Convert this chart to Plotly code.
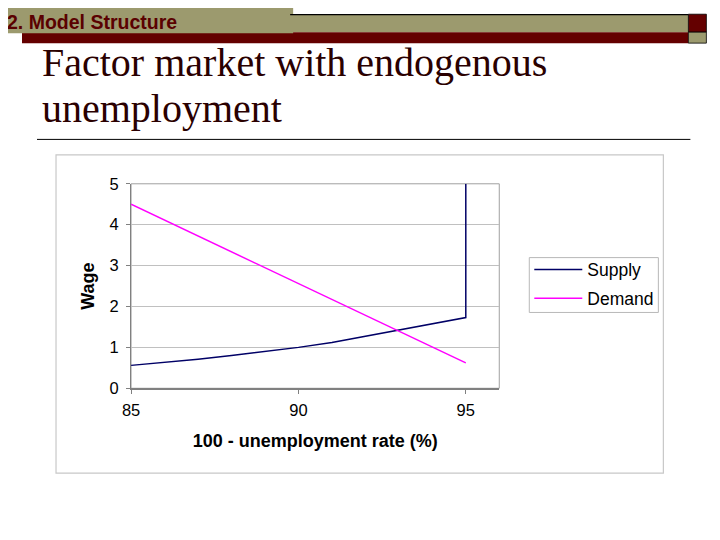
import plotly.graph_objects as go

# Data
supply_x = [85, 86, 87, 88, 89, 90, 91, 92, 93, 94, 95, 95]
supply_y = [0.56, 0.63, 0.71, 0.8, 0.9, 1.0, 1.12, 1.27, 1.42, 1.57, 1.73, 5.0]
demand_x = [85, 95]
demand_y = [4.5, 0.62]
x_ticks = [85, 90, 95]
y_ticks = [0, 1, 2, 3, 4, 5]
series_names = ["Supply", "Demand"]
header_text = "2. Model Structure"
title_lines = ["Factor market with endogenous", "unemployment"]
x_title = "100 - unemployment rate (%)"
y_title = "Wage"

W, H = 720, 540
# screen-pixel -> paper fraction (calibrated against rendered output)
OX, SX = 17.0, 710.6
OY, SY = 14.8, 523.3
def px(x): return (x - OX) / SX
def py(y): return 1 - (y - OY) / SY

fig = go.Figure()
fig.add_trace(go.Scatter(x=supply_x, y=supply_y, mode="lines", name=series_names[0],
                         legendgroup="a", line=dict(color="#000066", width=1.5)))
fig.add_trace(go.Scatter(x=demand_x, y=demand_y, mode="lines", name=series_names[1],
                         legendgroup="b", line=dict(color="#FF00FF", width=1.5)))

olive = "#9C9A6E"
darkred = "#640000"
shapes = [
    dict(type="rect", xref="paper", yref="paper", x0=px(290), x1=px(688), y0=py(30), y1=py(12),
         fillcolor=olive, line=dict(width=0), layer="below"),
    dict(type="line", xref="paper", yref="paper", x0=px(290), x1=px(688), y0=py(12.5), y1=py(12.5),
         line=dict(color="#000000", width=1.2)),
    dict(type="rect", xref="paper", yref="paper", x0=px(22), x1=px(688), y0=py(41), y1=py(30),
         fillcolor=darkred, line=dict(width=0), layer="below"),
    dict(type="rect", xref="paper", yref="paper", x0=px(688), x1=px(706), y0=py(30), y1=py(12),
         fillcolor=darkred, line=dict(color="#000000", width=0.8), layer="below"),
    dict(type="rect", xref="paper", yref="paper", x0=px(688), x1=px(706), y0=py(41), y1=py(30),
         fillcolor=olive, line=dict(color="#000000", width=0.8), layer="below"),
    dict(type="rect", xref="paper", yref="paper", x0=px(-10), x1=px(293), y0=py(31), y1=py(-10),
         fillcolor=olive, line=dict(width=0), layer="below"),
    dict(type="line", xref="paper", yref="paper", x0=px(37), x1=px(690), y0=py(137.5), y1=py(137.5),
         line=dict(color="#000000", width=1)),
    # chart frame
    dict(type="rect", xref="paper", yref="paper", x0=px(56), x1=px(663), y0=py(472), y1=py(153),
         fillcolor="rgba(0,0,0,0)", line=dict(color="#C8C8C8", width=1.2), layer="below"),
    # plot area border
    dict(type="rect", xref="paper", yref="paper", x0=px(131), x1=px(499), y0=py(387), y1=py(182),
         fillcolor="rgba(0,0,0,0)", line=dict(color="#A0A0A0", width=1), layer="below"),
    # legend box
    dict(type="rect", xref="paper", yref="paper", x0=px(529), x1=px(658), y0=py(311), y1=py(256),
         fillcolor="white", line=dict(color="#B8B8B8", width=1), layer="below"),
]

annotations = [
    dict(text="<b>" + header_text + "</b>", xref="paper", yref="paper", x=px(5), y=py(19.5),
         xanchor="left", yanchor="middle", showarrow=False,
         font=dict(family="Liberation Sans, Arial", size=19.5, color="#5A0000")),
    dict(text=title_lines[0], xref="paper", yref="paper",
         x=px(40), y=py(36), xanchor="left", yanchor="top", showarrow=False,
         font=dict(family="Liberation Serif, Times New Roman", size=40, color="#2A0000")),
    dict(text=title_lines[1], xref="paper", yref="paper",
         x=px(40), y=py(82), xanchor="left", yanchor="top", showarrow=False,
         font=dict(family="Liberation Serif, Times New Roman", size=40, color="#2A0000")),
]

fig.update_layout(
    width=W, height=H,
    margin=dict(l=0, r=0, t=0, b=0),
    paper_bgcolor="white", plot_bgcolor="white",
    shapes=shapes, annotations=annotations,
    showlegend=True,
    legend=dict(x=px(529), y=py(250), xanchor="left", yanchor="top",
                borderwidth=0, bgcolor="rgba(0,0,0,0)",
                font=dict(family="Liberation Sans, Arial", size=17.5, color="#000000"),
                tracegroupgap=3, itemwidth=48),
    xaxis=dict(domain=[px(131), px(499)], range=[85, 96], tickvals=x_ticks,
               showgrid=False, zeroline=False, showline=True, linecolor="#808080", linewidth=1.5,
               ticks="outside", ticklen=4, tickcolor="#808080", ticklabelstandoff=2,
               tickfont=dict(family="Liberation Sans, Arial", size=16.5, color="#000000"),
               title=dict(text="<b>" + x_title + "</b>", standoff=17,
                          font=dict(family="Liberation Sans, Arial", size=18, color="#000000"))),
    yaxis=dict(domain=[py(387), py(182)], range=[0, 5], tickvals=y_ticks,
               showgrid=True, gridcolor="#C0C0C0", gridwidth=1, zeroline=False,
               showline=True, linecolor="#808080", linewidth=1,
               ticks="outside", ticklen=4, tickcolor="#808080", ticklabelstandoff=4,
               tickfont=dict(family="Liberation Sans, Arial", size=16.5, color="#000000"),
               title=dict(text="<b>" + y_title + "</b>", standoff=10,
                          font=dict(family="Liberation Sans, Arial", size=18, color="#000000"))),
)

fig.write_html("out.html")
